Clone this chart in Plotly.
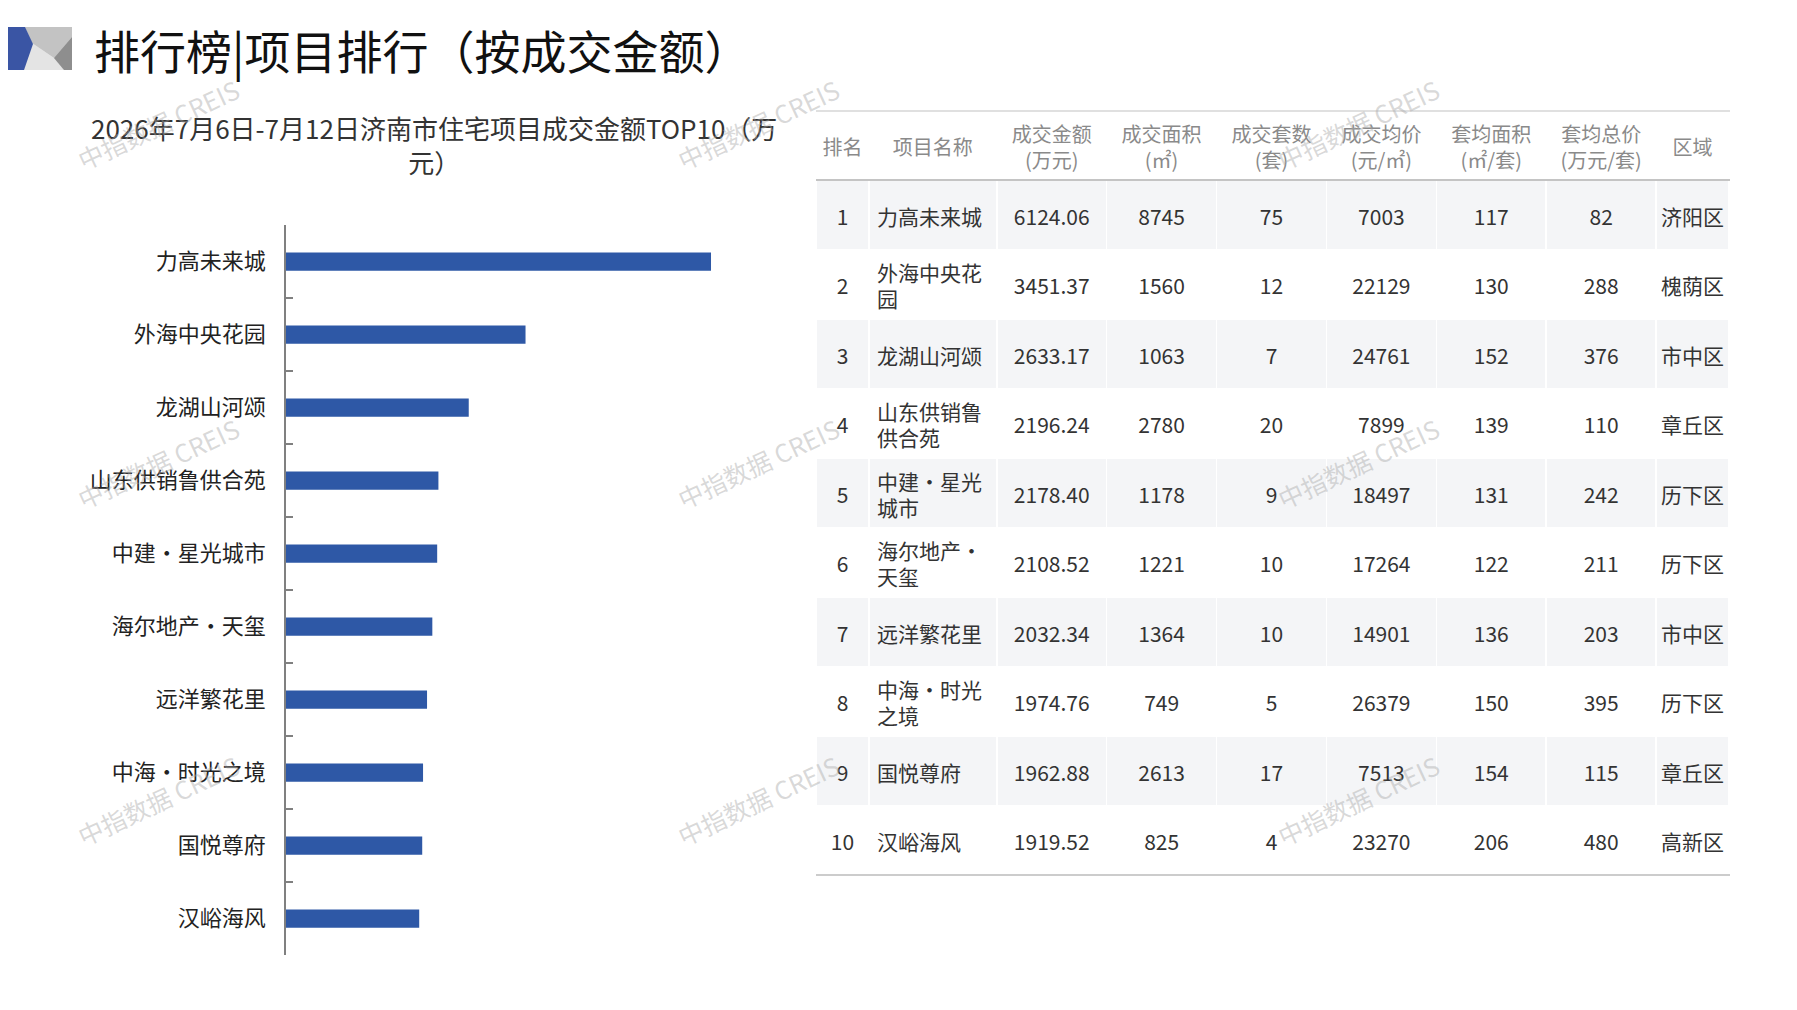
import plotly.graph_objects as go

W, H = 1797, 1010
FONT = "Noto Sans CJK SC"

# data
ranks = list(range(1, 11))
names = ["力高未来城", "外海中央花园", "龙湖山河颂", "山东供销鲁供合苑", "中建·星光城市",
         "海尔地产·天玺", "远洋繁花里", "中海·时光之境", "国悦尊府", "汉峪海风"]
amount = [6124.06, 3451.37, 2633.17, 2196.24, 2178.40, 2108.52, 2032.34, 1974.76, 1962.88, 1919.52]
area = [8745, 1560, 1063, 2780, 1178, 1221, 1364, 749, 2613, 825]
units = [75, 12, 7, 20, 9, 10, 10, 5, 17, 4]
price = [7003, 22129, 24761, 7899, 18497, 17264, 14901, 26379, 7513, 23270]
avg_area = [117, 130, 152, 139, 131, 122, 136, 150, 154, 206]
avg_total = [82, 288, 376, 110, 242, 211, 203, 395, 115, 480]
district = ["济阳区", "槐荫区", "市中区", "章丘区", "历下区", "历下区", "市中区", "历下区", "章丘区", "高新区"]
headers = ["排名", "项目名称", "成交金额<br>(万元)", "成交面积<br>(㎡)", "成交套数<br>(套)",
           "成交均价<br>(元/㎡)", "套均面积<br>(㎡/套)", "套均总价<br>(万元/套)", "区域"]

title = "排行榜|项目排行（按成交金额）"
subtitle = "2026年7月6日-7月12日济南市住宅项目成交金额TOP10（万<br>元）"

# the page body has an 8px margin, so the figure starts at (8, 8) on screen
OX, OY = 8, 8
FW, FH = W - 16, H - 16


def px(x):
    return (x - OX) / FW


def py(y):
    return 1 - (y - OY) / FH


fig = go.Figure()

# bar chart
fig.add_trace(go.Bar(
    x=amount, y=names, orientation="h", width=0.25,
    marker=dict(color="#2E58A6", line=dict(width=0)),
    hoverinfo="x+y",
))

# table: columns as strings
name_lines = ["<br>".join(n[i:i + 5] for i in range(0, len(n), 5)) for n in names]
cols = [
    [str(r) for r in ranks],
    name_lines,
    [f"{v:.2f}" for v in amount],
    [str(v) for v in area],
    [str(v) for v in units],
    [str(v) for v in price],
    [str(v) for v in avg_area],
    [str(v) for v in avg_total],
    district,
]
colw = [53, 128, 110, 110, 110, 110, 110, 110, 73]
aligns = ["center", "left", "center", "center", "center", "center", "center", "center", "center"]
row_fill = ["#F4F5F7" if i % 2 == 0 else "white" for i in range(10)]


# plotly tables put text at the top of a cell and have no vertical alignment,
# so the fills sit in a base table and each text line goes in an overlay
# table shifted down to its place in the row
def line_of(s, k):
    parts = s.split("<br>")
    if k == "single":
        return s if len(parts) == 1 else ""
    return parts[k] if len(parts) > 1 else ""


t_left, t_right, t_top = 816, 1730, 111
HEAD_H, ROW_H = 69, 69.5
clear = "rgba(0,0,0,0)"
hfont = dict(family=FONT, size=20, color="#8A8A8A")
cfont = dict(family=FONT, size=21, color="#333333")


def table(head, body, shift, base=False):
    return go.Table(
        domain=dict(x=[px(t_left), px(t_right)], y=[0, py(t_top + shift)]),
        columnwidth=colw,
        header=dict(values=head, height=HEAD_H, align="center",
                    fill_color="white" if base else clear,
                    line=dict(color="white" if base else clear, width=0),
                    font=hfont),
        cells=dict(values=body, height=ROW_H, align=aligns,
                   fill_color=[row_fill] * 9 if base else clear,
                   line=dict(color="white" if base else clear, width=1.5 if base else 0),
                   font=cfont),
    )


fig.add_trace(table([""] * 9, [[""] * 10 for _ in cols], 0, base=True))
for k, shift in [("single", 21), (0, 8), (1, 34)]:
    fig.add_trace(table([line_of(h, k) for h in headers],
                        [[line_of(c, k) for c in col] for col in cols], shift))

shapes = []
# table rules
for yy, col, lw in [(t_top, "#D6D6D6", 1.5), (t_top + HEAD_H, "#C4C4C4", 2),
                    (t_top + HEAD_H + 10 * ROW_H, "#CCCCCC", 2)]:
    shapes.append(dict(type="line", xref="paper", yref="paper", x0=px(t_left), x1=px(t_right),
                       y0=py(yy), y1=py(yy), line=dict(color=col, width=lw)))
# header logo
logo = [
    ("#DADADA", [(25, 27), (72, 27), (72, 70), (24, 70)]),
    ("#C3C3C3", [(25, 27), (72, 27), (72, 37), (54, 58), (32, 43)]),
    ("#E4E4E4", [(32, 43), (54, 58), (64, 70), (24, 70)]),
    ("#8E8E8E", [(72, 37), (72, 70), (64, 70), (54, 58)]),
    ("#3A55A4", [(0, 27), (25, 27), (33, 44), (24, 70), (0, 70)]),
]
for col, pts in logo:
    path = "M " + " L ".join(f"{px(x)},{py(y)}" for x, y in pts) + " Z"
    shapes.append(dict(type="path", xref="paper", yref="paper", path=path,
                       fillcolor=col, line=dict(width=0)))

annotations = [
    dict(text=title, x=px(92), y=py(49), xref="paper", yref="paper", xanchor="left", yanchor="middle",
         showarrow=False, font=dict(family=FONT, size=46, color="#111111")),
    dict(text=subtitle, x=px(434), y=py(145), xref="paper", yref="paper", xanchor="center", yanchor="middle",
         showarrow=False, align="center", font=dict(family=FONT, size=26, color="#333333")),
]
# watermark
for wx in [158, 758, 1358]:
    for wy in [124, 463, 800]:
        annotations.append(dict(text="中指数据 CREIS", x=px(wx), y=py(wy), xref="paper", yref="paper",
                                xanchor="center", yanchor="middle",
                                showarrow=False, textangle=-25,
                                font=dict(family=FONT, size=25, color="rgba(170,170,170,0.45)")))

fig.update_layout(
    width=FW, height=FH,
    margin=dict(l=0, r=0, t=0, b=0),
    paper_bgcolor="white", plot_bgcolor="white",
    showlegend=False,
    xaxis=dict(domain=[px(286), px(286 + 7000 * 0.0694)], range=[0, 7000], visible=False),
    yaxis=dict(domain=[py(955), py(225)], autorange="reversed", type="category",
               showline=True, linecolor="#808080", linewidth=1.5,
               ticks="inside", tickson="boundaries", ticklen=7, tickcolor="#808080", tickwidth=1.5,
               ticklabelstandoff=14, showgrid=False,
               tickfont=dict(family=FONT, size=22, color="#222222")),
    shapes=shapes,
    annotations=annotations,
)

fig.write_html("out.html")
